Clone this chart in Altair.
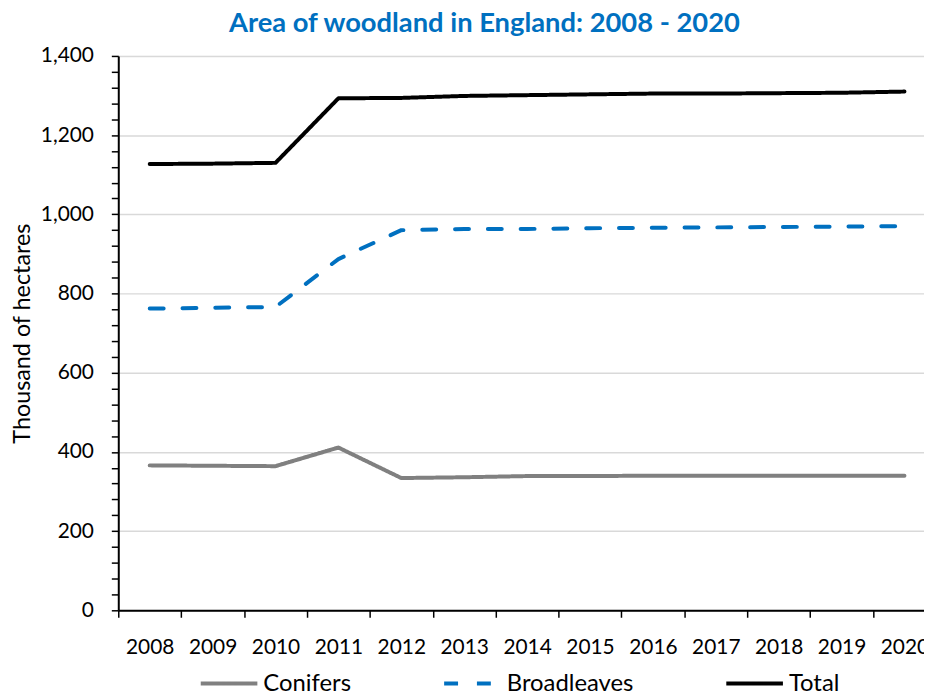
import altair as alt
import pandas as pd

years = ["2008", "2009", "2010", "2011", "2012", "2013", "2014",
         "2015", "2016", "2017", "2018", "2019", "2020"]
conifers = [366, 365, 364, 411, 334, 336, 339, 339, 340, 340, 340, 340, 340]
broadleaves = [762, 764, 766, 887, 960, 963, 963, 965, 966, 967, 968, 969, 970]
total = [1127, 1128, 1130, 1293, 1294, 1299, 1301, 1303, 1305, 1305, 1306, 1307, 1310]

series_names = ["Conifers", "Broadleaves", "Total"]
series_colors = ["#808080", "#0070C0", "#000000"]
series_dashes = [[1, 0], [14, 19], [1, 0]]

rows = []
for name, vals in zip(series_names, [conifers, broadleaves, total]):
    for yr, v in zip(years, vals):
        rows.append({"Year": yr, "Value": v, "Series": name})
df = pd.DataFrame(rows)

FONT = "Lato"

legend_cfg = dict(
    title=None, orient="none", direction="horizontal",
    legendX=81, legendY=601,
    symbolType="stroke", symbolSize=3249, symbolStrokeWidth=4,
    symbolDash=alt.ExprRef("datum.value === 'Broadleaves' ? [21, 10] : [1, 0]"),
    labelFont=FONT, labelFontSize=24, labelColor="#000000",
    labelOffset=4, columnPadding=85,
)

chart = alt.Chart(df).mark_line(
    strokeWidth=4, strokeCap="round", strokeJoin="round"
).encode(
    x=alt.X(
        "Year:O",
        bandPosition=0.5,
        sort=years,
        scale=alt.Scale(type="band", domain=years, range=[0, 823],
                        paddingInner=0, paddingOuter=0),
        axis=alt.Axis(
            title=None, tickBand="extent", labelAngle=0,
            labelFont=FONT, labelFontSize=21, labelColor="#000000",
            labelPadding=19, labelBaseline="top",
            domainColor="#000000", domainWidth=2,
            tickColor="#000000", tickWidth=1.5, tickSize=7,
            grid=False,
        ),
    ),
    y=alt.Y(
        "Value:Q",
        scale=alt.Scale(domain=[0, 1400], nice=False),
        axis=alt.Axis(
            title="Thousand of hectares",
            titleFont=FONT, titleFontSize=23.5, titleFontWeight="normal",
            titleColor="#000000",
            titleX=-96, titleY=279, titleAlign="center", titleBaseline="middle",
            titleAngle=270,
            values=list(range(0, 1401, 40)),
            labelExpr="datum.value % 200 === 0 ? format(datum.value, ',') : ''",
            labelFont=FONT, labelFontSize=21, labelColor="#000000",
            labelPadding=18,
            domainColor="#000000", domainWidth=2,
            tickColor="#000000", tickWidth=1.5, tickSize=7,
            grid=True, gridColor="#d9d9d9", gridWidth=1.5,
            gridOpacity={"condition": {"test": "datum.value % 200 === 0", "value": 1}, "value": 0},
        ),
    ),
    color=alt.Color(
        "Series:N",
        scale=alt.Scale(domain=series_names, range=series_colors),
        legend=alt.Legend(**legend_cfg),
    ),
    strokeDash=alt.StrokeDash(
        "Series:N",
        scale=alt.Scale(domain=series_names, range=series_dashes),
        legend=None,
    ),
).properties(
    width=811,
    height=558,
    title=alt.TitleParams(
        text="Area of woodland in England: 2008 - 2020",
        font=FONT, fontSize=27.5, fontWeight="bold", color="#0070C0",
        anchor="middle", frame="group", dx=-37, offset=8,
    ),
    autosize=alt.AutoSizeParams(type="none"),
    padding={"left": 111, "top": 46, "right": 0, "bottom": 83},
).configure_view(
    stroke=None
).configure(
    background="#ffffff"
)

chart.save("out.html", embed_options={"renderer": "svg", "actions": False})
